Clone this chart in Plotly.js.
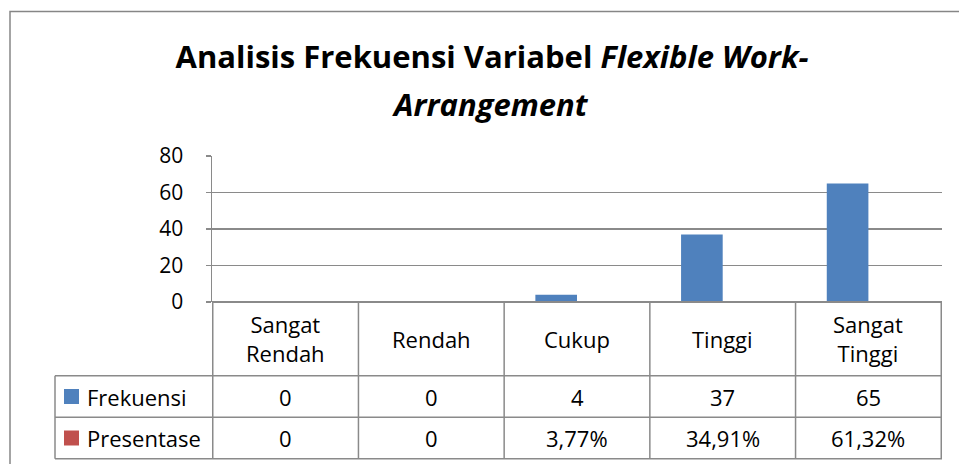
<!DOCTYPE html>
<html>
<head>
<meta charset="utf-8">
<script src="https://cdn.plot.ly/plotly-3.0.1.min.js"></script>
<style>html,body{margin:0;padding:0;background:#fff;}#chart{width:959px;height:464px;}</style>
</head>
<body>
<div id="chart"></div>
<script>
// ---- data ----
const categories = ['Sangat Rendah', 'Rendah', 'Cukup', 'Tinggi', 'Sangat Tinggi'];
const seriesNames = ['Frekuensi', 'Presentase'];
const frekuensi = [0, 0, 4, 37, 65];
const presentase = [0, 0, 0.0377, 0.3491, 0.6132];
const frekuensiLabels = ['0', '0', '4', '37', '65'];
const presentaseLabels = ['0', '0', '3,77%', '34,91%', '61,32%'];
const yTicks = [0, 20, 40, 60, 80];
const titleLine1 = '<b>Analisis Frekuensi Variabel <i>Flexible Work-</i></b>';
const titleLine2 = '<b><i>Arrangement</i></b>';

// ---- layout helpers (pixel -> paper) ----
const W = 959, H = 464;
const mL = 212, mR = 17, mT = 156, mB = 162;
const pw = W - mL - mR, ph = H - mT - mB;
const px = p => (p - mL) / pw;
const py = p => (H - mB - p) / ph;

const colors = ['#4F81BD', '#C0504D'];
const gridCol = '#8a8a8a';
const FONT = 'Open Sans, Noto Sans, sans-serif';
const TITLE_SIZE = 31;

const rowHeaderBottom = 375.7, rowPresTop = 417.3, tableBottom = 458.7, tableLeft = 55;

const shapes = [];
// outer chart border
shapes.push({type: 'rect', xref: 'paper', yref: 'paper', x0: px(10), x1: px(1000), y0: py(11.5), y1: py(520),
  line: {color: '#868686', width: 1.5}, fillcolor: 'rgba(0,0,0,0)', layer: 'below'});
// table top border (category axis line)
shapes.push({type: 'line', xref: 'paper', yref: 'paper', x0: 0, x1: 1, y0: 0, y1: 0,
  line: {color: gridCol, width: 2}});
// table horizontal lines
[rowHeaderBottom, rowPresTop, tableBottom].forEach(yp => {
  shapes.push({type: 'line', xref: 'paper', yref: 'paper', x0: px(tableLeft), x1: 1, y0: py(yp), y1: py(yp),
    line: {color: gridCol, width: 1.5}});
});
// table vertical lines at category boundaries
for (let k = 0; k <= categories.length; k++) {
  shapes.push({type: 'line', xref: 'x', yref: 'paper', x0: k - 0.5, x1: k - 0.5, y0: 0, y1: py(tableBottom),
    line: {color: gridCol, width: 1.5}});
}
// legend column left border
shapes.push({type: 'line', xref: 'paper', yref: 'paper', x0: px(tableLeft), x1: px(tableLeft), y0: py(rowHeaderBottom), y1: py(tableBottom),
  line: {color: gridCol, width: 1.5}});

const rowCenters = [(rowHeaderBottom + rowPresTop) / 2, (rowPresTop + tableBottom) / 2];
// legend keys
rowCenters.forEach((c, i) => {
  shapes.push({type: 'rect', xref: 'paper', yref: 'paper', x0: px(64), x1: px(79), y0: py(c - 7.5), y1: py(c + 7.5),
    line: {width: 0}, fillcolor: colors[i]});
});

const annotations = [];
const txtFont = {family: FONT, size: 22, color: '#000'};
// title line 2
annotations.push({text: titleLine2, xref: 'paper', yref: 'paper', x: px(490), y: py(104), showarrow: false,
  xanchor: 'center', yanchor: 'middle', font: {family: FONT, size: TITLE_SIZE, color: '#000'}});
// header cells
categories.forEach(c => {
  annotations.push({text: c.replace(' ', '<br>'), xref: 'x', yref: 'paper', x: c, y: py((302 + rowHeaderBottom) / 2),
    showarrow: false, xanchor: 'center', yanchor: 'middle', font: txtFont});
});
// row labels + values
const rowLabels = [frekuensiLabels, presentaseLabels];
seriesNames.forEach((name, i) => {
  annotations.push({text: name, xref: 'paper', yref: 'paper', x: px(85), y: py(rowCenters[i]),
    showarrow: false, xanchor: 'left', yanchor: 'middle', font: txtFont});
  categories.forEach((c, j) => {
    annotations.push({text: rowLabels[i][j], xref: 'x', yref: 'paper', x: c, y: py(rowCenters[i]),
      showarrow: false, xanchor: 'center', yanchor: 'middle', font: txtFont});
  });
});

const traces = [
  {type: 'bar', name: seriesNames[0], x: categories, y: frekuensi, marker: {color: colors[0]}, hoverinfo: 'x+y'},
  {type: 'bar', name: seriesNames[1], x: categories, y: presentase, marker: {color: colors[1]}, hoverinfo: 'x+y'}
];

const layout = {
  width: W, height: H,
  margin: {l: mL, r: mR, t: mT, b: mB, pad: 0},
  paper_bgcolor: '#fff', plot_bgcolor: '#fff',
  showlegend: false,
  barmode: 'group', bargap: 1.5 / 3.5, bargroupgap: 0,
  title: {text: titleLine1, xref: 'container', yref: 'container', x: 492 / W, xanchor: 'center',
    y: 1 - 57 / H, yanchor: 'middle', font: {family: FONT, size: TITLE_SIZE, color: '#000'}},
  xaxis: {type: 'category', showticklabels: false, ticks: '', showgrid: false, zeroline: false,
    showline: false, fixedrange: true},
  yaxis: {range: [0, 80], tickvals: yTicks, ticktext: yTicks.map(String), showgrid: true, gridcolor: gridCol, gridwidth: 1.5,
    zeroline: false, showline: true, linecolor: gridCol, linewidth: 1.5, ticks: 'outside', ticklen: 5,
    tickcolor: gridCol, tickwidth: 1.5, ticklabelstandoff: 18, tickfont: {family: FONT, size: 21, color: '#000'}, fixedrange: true},
  shapes: shapes,
  annotations: annotations
};

Plotly.newPlot('chart', traces, layout, {displayModeBar: false, staticPlot: true});
</script>
</body>
</html>
